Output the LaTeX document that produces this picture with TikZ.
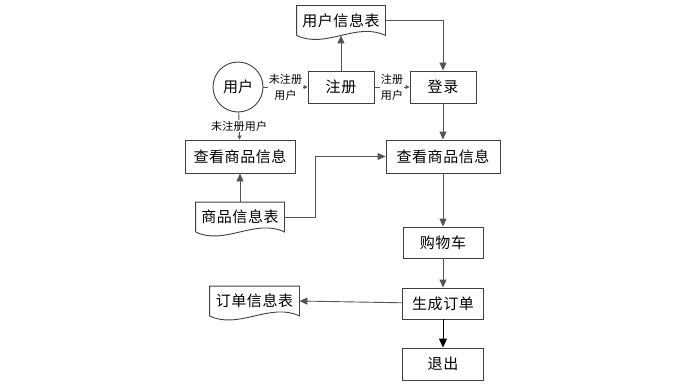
\documentclass[tikz,border=0pt]{standalone}
\usepackage{fontspec}
\setmainfont{Noto Sans CJK SC}
\usetikzlibrary{arrows.meta}
\definecolor{linegray}{gray}{0.33}
\definecolor{edgegray}{gray}{0.25}

\begin{document}
\begin{tikzpicture}[x=1pt, y=-1pt, line width=0.9pt,
    box/.style={rectangle, draw=edgegray, inner sep=0pt, font=\fontsize{15}{17}\selectfont\addfontfeature{LetterSpace=4}},
    doc/.style={rectangle, inner sep=0pt, minimum width=88pt, minimum height=29pt, font=\fontsize{15}{17}\selectfont\addfontfeature{LetterSpace=4}},
    lbl/.style={fill=white, inner sep=1pt, align=center, font=\fontsize{11}{16}\selectfont\addfontfeature{LetterSpace=2}},
    arr/.style={draw=linegray, -{Triangle[length=8pt,width=7pt]}},
    sarr/.style={draw=linegray, -{Triangle[length=4pt,width=4pt]}}]
    \useasboundingbox (0,0) rectangle (674,385);

    % ノード（処理・利用者）の定義
    \node[circle, draw=edgegray, minimum size=50pt, inner sep=0pt, font=\fontsize{15}{17}\selectfont] (U) at (238,87) {用户};
    \node[box, minimum width=66pt, minimum height=32pt] (R) at (341,87) {注册};
    \node[box, minimum width=66pt, minimum height=32pt] (L) at (443,87) {登录};
    \node[box, minimum width=110pt, minimum height=33pt] (V1) at (240,156.5) {查看商品信息};
    \node[box, minimum width=114pt, minimum height=33pt] (V2) at (443,156.5) {查看商品信息};
    \node[box, minimum width=80pt, minimum height=31pt] (C) at (443,242.5) {购物车};
    \node[box, minimum width=81pt, minimum height=31pt] (O) at (443,303.5) {生成订单};
    \node[box, minimum width=81pt, minimum height=32pt] (E) at (443,364) {退出};

    % 文書（データ表）の定義
    \node[doc] (UT) at (341,20.5) {用户信息表};
    \node[doc] (GT) at (240,217) {商品信息表};
    \node[doc, minimum width=89pt] (OT) at (254.5,301) {订单信息表};
    \foreach \d in {UT,GT,OT}
        \draw[edgegray] (\d.south west) -- (\d.north west) -- (\d.north east) -- (\d.south east)
            .. controls +(-29,-14) and +(29,14) .. (\d.south west);

    % 矢印（流れ）の描画
    \draw[sarr] (U) -- node[lbl] {未注册\\用户} (R);
    \draw[sarr] (R) -- node[lbl] {注册\\用户} (L);
    \draw[sarr] (U) -- node[lbl] {未注册用户} (V1);
    \draw[arr] (R) -- (UT.south);
    \draw[arr] (UT.east) -| (L);
    \draw[arr] (L) -- (V2);
    \draw[arr] (GT) -- (V1);
    \draw[arr] (GT.east) -- ++(31,0) |- (V2.west);
    \draw[arr] (V2) -- (C);
    \draw[arr] (C) -- (O);
    \draw[arr] (O) -- (OT.east);
    \draw[black, -{Triangle[length=9pt,width=8pt]}] (O) -- (E);
\end{tikzpicture}
\end{document}
